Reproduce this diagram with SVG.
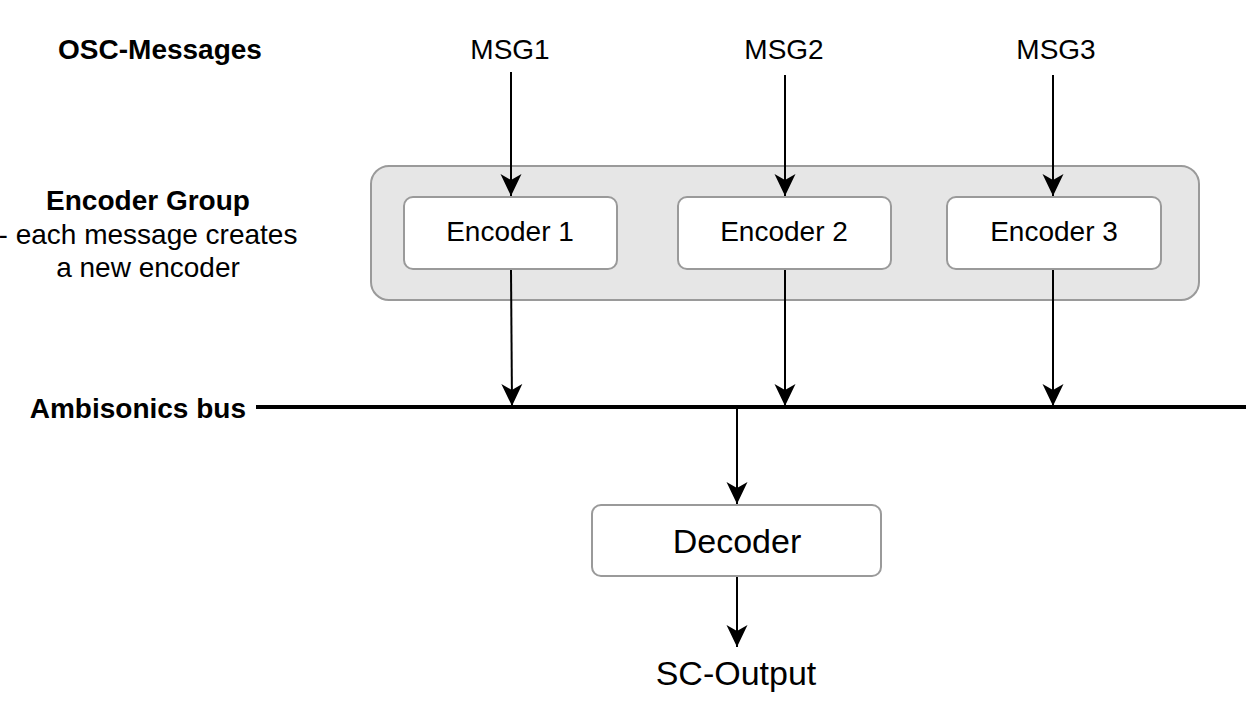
<svg xmlns="http://www.w3.org/2000/svg" width="1246" height="708" viewBox="0 0 1246 708">
<defs>
<style>
text{font-family:"Liberation Sans",Arial,sans-serif;fill:#000;text-anchor:middle}
.b{font-weight:bold}
.t28{font-size:28px}
.t34{font-size:34px}
.node{fill:#fff;stroke:#9a9a9a;stroke-width:2}
.conn{stroke:#000;stroke-width:2;fill:none;marker-end:url(#arr)}
</style>
<marker id="arr" markerUnits="userSpaceOnUse" markerWidth="22" markerHeight="22" viewBox="0 0 22 22" refX="22" refY="11" orient="auto">
<path d="M0,0.5 L22,11 L0,21.5 L6,11 Z" fill="#000"/>
</marker>
</defs>
<rect width="1246" height="708" fill="#fff"/>
<g id="labels">
<text class="b t28" x="160" y="59">OSC-Messages</text>
<text class="b t28" x="148" y="210">Encoder Group</text>
<text class="t28" x="148" y="244">- each message creates</text>
<text class="t28" x="148" y="277">a new encoder</text>
<text class="b t28" x="246" y="418" style="text-anchor:end">Ambisonics bus</text>
</g>
<g id="msg1"><text class="t28" x="510" y="59">MSG1</text></g>
<g id="msg2"><text class="t28" x="784" y="59">MSG2</text></g>
<g id="msg3"><text class="t28" x="1056" y="59">MSG3</text></g>
<g id="encoder-group"><rect x="371" y="166" width="828" height="134" rx="18" fill="#e6e6e6" stroke="#9a9a9a" stroke-width="2"/></g>
<g id="encoder1"><rect class="node" x="404" y="197" width="213" height="72" rx="9"/><text class="t28" x="510" y="241">Encoder 1</text></g>
<g id="encoder2"><rect class="node" x="678" y="197" width="213" height="72" rx="9"/><text class="t28" x="784" y="241">Encoder 2</text></g>
<g id="encoder3"><rect class="node" x="947" y="197" width="214" height="72" rx="9"/><text class="t28" x="1054" y="241">Encoder 3</text></g>
<g id="bus"><line x1="256" y1="407" x2="1246" y2="407" stroke="#000" stroke-width="4"/></g>
<g id="decoder"><rect class="node" x="592" y="505" width="289" height="71" rx="9"/><text class="t34" x="737" y="553">Decoder</text></g>
<g id="sc-output"><text class="t34" x="736" y="685">SC-Output</text></g>
<g id="connectors">
<line class="conn" x1="511" y1="72" x2="511" y2="196"/>
<line class="conn" x1="785" y1="75" x2="785" y2="196"/>
<line class="conn" x1="1053" y1="75" x2="1053" y2="196"/>
<line class="conn" x1="511" y1="270" x2="512" y2="406"/>
<line class="conn" x1="785" y1="270" x2="785" y2="406"/>
<line class="conn" x1="1053" y1="270" x2="1053" y2="406"/>
<line class="conn" x1="737" y1="409" x2="737" y2="504"/>
<line class="conn" x1="737" y1="577" x2="737" y2="647"/>
</g>
</svg>
